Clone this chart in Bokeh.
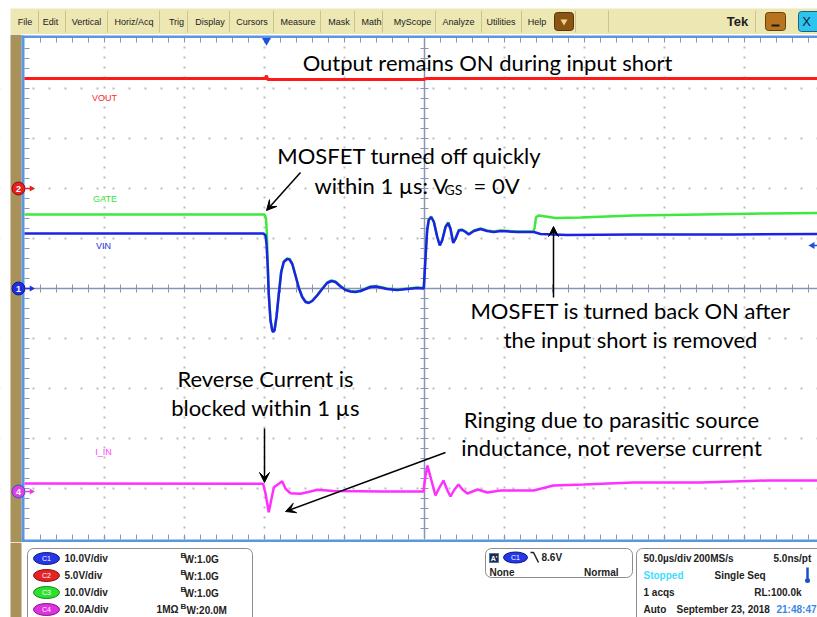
import numpy as np
from bokeh.plotting import figure
from bokeh.layouts import column
from bokeh.models import Range1d, Grid, FixedTicker, Arrow, VeeHead
from bokeh.core.properties import value
from bokeh.embed import file_html
from bokeh.resources import INLINE

# ---------------- waveform data ----------------
# time in µs relative to the trigger point (50 µs/div)
vin_t = [-151.25, -1.9, -0.6, 0.0, 0.8, 1.4, 2.5, 3.6, 4.2, 5.0, 6.25, 7.7, 9.2, 10.8, 12.9, 14.4,
         16.1, 18.1, 20.2, 22.3, 24.4, 26.4, 28.6, 31.7, 34.8, 37.9, 40.6, 43.1, 46.25, 49.4, 52.5,
         55.6, 58.75, 61.9, 65.0, 68.1, 71.25, 75.4, 81.7, 87.9, 94.2, 98.3, 99.4, 100.4, 101.4,
         102.9, 104.6, 106.7, 108.3, 109.8, 111.9, 113.6, 115.0, 116.7, 118.1, 120.2, 122.3, 124.4,
         126.4, 129.6, 133.75, 137.9, 142.1, 146.25, 156.7, 167.1, 171.25, 187.9, 229.4, 291.9, 344.4]
vin_v = [11.0, 11.0, 10.6, 8.9, 4.3, -1.1, -6.4, -8.4, -8.7, -8.4, -5.7, -1.1, 3.3, 5.3, 5.9, 5.8,
         4.9, 2.6, 0.1, -1.7, -2.7, -2.9, -2.5, -1.4, -0.1, 1.1, 1.5, 1.3, 0.4, -0.3, -0.6,
         -0.7, -0.5, -0.1, 0.3, 0.4, 0.2, -0.1, -0.3, -0.1, 0.1, 0.0, 6.3, 11.6, 13.7,
         14.3, 13.3, 10.3, 8.6, 9.6, 12.3, 13.1, 11.9, 9.1, 9.9, 11.6, 11.7, 11.3,
         10.8, 11.5, 11.9, 11.5, 11.3, 11.5, 11.3, 11.3, 10.9, 10.7, 10.8, 10.8, 10.9]

gate_t = [-151.25, -1.25, -0.3, 0.3, 0.8, 1.4, 2.5, 3.6, 4.2, 5.0, 6.25, 7.7, 9.2, 10.8, 12.9, 14.4,
          16.1, 18.1, 20.2, 22.3, 24.4, 26.4, 28.6, 31.7, 34.8, 37.9, 40.6, 43.1, 46.25, 49.4, 52.5,
          55.6, 58.75, 61.9, 65.0, 68.1, 71.25, 75.4, 81.7, 87.9, 94.2, 98.3, 99.4, 100.4, 101.4,
          102.9, 104.6, 106.7, 108.3, 109.8, 111.9, 113.6, 115.0, 116.7, 118.1, 120.2, 122.3, 124.4,
          126.4, 129.6, 133.75, 137.9, 142.1, 146.25, 156.7, 166.9, 167.6, 168.4, 170.0, 174.4,
          180.6, 196.25, 229.4, 271.25, 313.1, 344.4]
gate_v = [14.8, 14.8, 14.0, 10.6, 4.4, -1.0, -6.3, -8.3, -8.6, -8.3, -5.6, -1.0, 3.4, 5.4, 6.0, 5.9,
          5.0, 2.7, 0.2, -1.6, -2.6, -2.8, -2.4, -1.3, 0.0, 1.2, 1.6, 1.4, 0.5, -0.2, -0.5,
          -0.6, -0.4, 0.0, 0.4, 0.5, 0.3, 0.0, -0.2, 0.0, 0.2, 0.1, 6.4, 11.7, 13.8,
          14.4, 13.4, 10.4, 8.7, 9.7, 12.4, 13.2, 12.0, 9.2, 10.0, 11.7, 11.8, 11.4,
          10.9, 11.6, 12.0, 11.6, 11.4, 11.6, 11.4, 11.4, 12.2, 14.2, 14.6, 14.4,
          14.1, 14.2, 14.6, 14.8, 15.0, 15.1]

vout_t = [-151.25, -0.6, 0.0, 0.6, 3.0, 98.1, 100.0, 344.4]
vout_v = [11.0, 11.0, 11.3, 10.9, 10.9, 10.9, 11.0, 11.0]

iin_t = [-151.25, -2.1, -0.6, 1.4, 2.9, 4.6, 7.7, 9.8, 11.9, 15.0, 21.25, 27.5, 31.7, 41.9, 73.1,
         98.1, 99.4, 100.6, 103.1, 105.6, 108.1, 110.6, 113.1, 115.0, 117.5, 120.0, 122.5, 125.6,
         131.9, 138.1, 146.25, 166.9, 179.4, 198.1, 229.4, 271.25, 313.1, 344.4]
iin_a = [3.2, 3.1, -0.9, -8.3, -3.6, 1.7, 3.1, 4.1, 1.1, -0.7, -0.9, 0.0, 0.7, 0.2, 0.0,
         0.0, 6.4, 10.4, 4.4, -1.6, 1.6, 4.4, 0.4, -2.0, 0.8, 2.8, 0.8, -0.8,
         0.8, -0.4, 0.4, 0.4, 2.4, 2.8, 3.6, 3.6, 4.4, 4.4]

# scope settings
channel_names = ["C1", "C2", "C3", "C4"]
channel_units = ["V", "V", "V", "A"]
channel_scale = [10.0, 5.0, 10.0, 20.0]        # units per division
channel_ground_div = [0.0, 2.0, 0.0, -4.06]    # ground marker position in divisions
channel_bw = ["1.0G", "1.0G", "1.0G", "20.0M"]
time_per_div = 50.0
trigger_level = 8.6

# ---------------- screen geometry (reference pixels) ----------------
W = 817
X0, X1 = 0, 817
TOP_Y0, MID_Y0, MID_Y1, BOT_Y1 = 0, 34, 542, 617
TOP_H, MID_H, BOT_H = MID_Y0 - TOP_Y0, MID_Y1 - MID_Y0, BOT_Y1 - MID_Y1
GL, GT, GB = 24, 38, 538
CX, CY = 424, 288
DX, DY = 80, 50
TRIG_X = 266


def t_of(x):
    return (x - TRIG_X) / DX * time_per_div


def d_of(y):
    return (CY - y) / DY


BROWN = "#a8925a"
BLUE_EDGE = "#5b96e0"
RET = "#8a93b3"
FONT = value("Liberation Sans")
ANN_FONT = value("Lato")
ANN_SIZE = "22px"


def make_fig(h, xr, yr):
    f = figure(width=W, height=h, x_range=xr, y_range=yr, output_backend="svg",
               toolbar_location=None, x_axis_type=None, y_axis_type=None, min_border=0,
               outline_line_color=None, background_fill_color="white", border_fill_color="white")
    return f


# ============================ top: menu bar ============================
top = make_fig(TOP_H, Range1d(X0, X1), Range1d(MID_Y0, TOP_Y0))
top.quad(left=[10], right=[X1], top=[8], bottom=[34], fill_color="#ece7b3", line_color=None)
menu_items = ["File", "Edit", "Vertical", "Horiz/Acq", "Trig", "Display", "Cursors", "Measure",
              "Mask", "Math", "MyScope", "Analyze", "Utilities", "Help"]
menu_x = [24.5, 50, 86, 133.5, 176, 209.5, 251.5, 297.5, 338.5, 371, 412, 458, 500.5, 536.5]
seps = [38, 65, 107, 159, 187, 229, 273, 320, 354, 382, 435, 481, 521, 575, 608, 755]
top.segment(x0=seps, y0=[10] * len(seps), x1=seps, y1=[32] * len(seps), line_color="#cbc28c", line_width=1)
top.text(x=menu_x, y=[21] * len(menu_x), text=menu_items, text_font=FONT, text_font_size="9px",
         text_align="center", text_baseline="middle", text_color="#1a1a1a")
top.quad(left=[554], right=[573], top=[12], bottom=[30], fill_color="#8a5512", line_color="#5a3508",
         border_radius=3)
top.scatter(x=[563.5], y=[21], marker="inverted_triangle", size=7, fill_color="#f3d58a", line_color=None)
top.text(x=[737], y=[21], text=["Tek"], text_font=FONT, text_font_style="bold", text_font_size="13px",
         text_align="center", text_baseline="middle", text_color="#1e1e1e")
top.quad(left=[765], right=[785], top=[12], bottom=[30], fill_color="#b8731f", line_color="#6a400c",
         border_radius=3)
top.segment(x0=[771], y0=[25], x1=[779], y1=[25], line_color="#1a1a1a", line_width=2)
top.quad(left=[798], right=[826], top=[11], bottom=[31], fill_color="#2ec4f0", line_color="#1a6080",
         border_radius=3)
top.text(x=[806], y=[21], text=["X"], text_font=FONT, text_font_size="13px",
         text_align="center", text_baseline="middle", text_color="#0a2040")

# ============================ middle: graticule + traces ============================
mid = make_fig(MID_H, Range1d(t_of(X0), t_of(X1)), Range1d(d_of(MID_Y1), d_of(MID_Y0)))
mid.extra_x_ranges = {"px": Range1d(X0, X1)}
yr = {"px": Range1d(MID_Y1, MID_Y0)}
for name, s, g in zip(channel_names, channel_scale, channel_ground_div):
    yr[name] = Range1d((d_of(MID_Y1) - g) * s, (d_of(MID_Y0) - g) * s)
mid.extra_y_ranges = yr

vticks = [t_of(GL + k * DX) for k in range(1, 10) if k != 5]
hticks = [float(d) for d in range(-4, 5) if d != 0]
mid.add_layout(Grid(dimension=0, ticker=FixedTicker(ticks=vticks), grid_line_color="#bcbcbc",
                    grid_line_width=2, grid_line_dash="2 8", grid_line_dash_offset=6))
mid.add_layout(Grid(dimension=1, ticker=FixedTicker(ticks=hticks), grid_line_color="#bcbcbc",
                    grid_line_width=2, grid_line_dash="2 14"))

PX = dict(x_range_name="px", y_range_name="px")
# left strip and blue borders
mid.quad(left=[X0], right=[10], top=[MID_Y0], bottom=[MID_Y1], fill_color="white", line_color=None, **PX)
mid.quad(left=[10], right=[21], top=[MID_Y0], bottom=[MID_Y1], fill_color=BROWN, line_color=None, **PX)
mid.quad(left=[21, 21, 21], right=[24, X1, X1], top=[35, 35, 539], bottom=[542, 37.5, 542],
         fill_color=BLUE_EDGE, line_color=None, **PX)

# reticle center lines and edge ticks
tx = np.arange(GL + 16, X1 + 1, 16)
ty = np.arange(GT + 10, GB, 10)
mid.segment(x0=[GL, CX], y0=[CY, GT], x1=[X1, CX], y1=[CY, GB], line_color=RET, line_width=1.5, **PX)
mid.segment(x0=tx, y0=CY - 4, x1=tx, y1=CY + 4, line_color=RET, line_width=1, **PX)
mid.segment(x0=CX - 4, y0=ty, x1=CX + 4, y1=ty, line_color=RET, line_width=1, **PX)
mid.segment(x0=tx, y0=GT - 1, x1=tx, y1=GT + 4, line_color=RET, line_width=1, **PX)
mid.segment(x0=tx, y0=GB - 4, x1=tx, y1=GB + 1, line_color=RET, line_width=1, **PX)
mid.segment(x0=GL, y0=ty, x1=GL + 5, y1=ty, line_color=RET, line_width=1, **PX)

# traces
mid.line(vout_t, vout_v, y_range_name="C2", line_color="#ff1a1a", line_width=3)
mid.line(gate_t, gate_v, y_range_name="C3", line_color="#3ee83e", line_width=2.5)
mid.line(vin_t, vin_v, y_range_name="C1", line_color="#1c22e6", line_width=2.5)
mid.line(iin_t, iin_a, y_range_name="C4", line_color="#ff30ff", line_width=2.5)

# trace labels
mid.text(x=[104, 104.5, 103, 103], y=[97, 198, 245, 451], text=["VOUT", "GATE", "VIN", "I_IN"],
         text_color=["#ff2a2a", "#36e636", "#2a2ae0", "#ff40ff"], text_font=FONT, text_font_size="9px",
         text_align="center", text_baseline="middle", **PX)

# ground markers for C2, C1, C4
mk_ch = ["C2", "C1", "C4"]
mk_txt = ["2", "1", "4"]
mk_col = ["#e82020", "#1f2fe0", "#e040e0"]
mk_edge = ["#901010", "#101a90", "#3050e0"]
for ch, tx_, c, e in zip(mk_ch, mk_txt, mk_col, mk_edge):
    mid.segment(x0=[25], y0=[0], x1=[30], y1=[0], line_color=c, line_width=1.5,
                x_range_name="px", y_range_name=ch)
    mid.scatter(x=[31], y=[0], marker="triangle", angle=-np.pi / 2, size=6, fill_color=c,
                line_color=None, x_range_name="px", y_range_name=ch)
    mid.scatter(x=[18], y=[0], marker="circle", size=13, fill_color=c, line_color=e,
                line_width=1, x_range_name="px", y_range_name=ch)
    mid.text(x=[18], y=[0], text=[tx_], text_color="white", text_font=FONT, text_font_style="bold",
             text_font_size="9px", text_align="center", text_baseline="middle",
             x_range_name="px", y_range_name=ch)

# trigger position marker (top) and trigger level marker (right)
mid.scatter(x=[0.0], y=[40], marker="inverted_triangle", size=9, fill_color="#1f4fe0",
            line_color=None, y_range_name="px")
mid.segment(x0=[812], y0=[trigger_level], x1=[817], y1=[trigger_level], line_color="#1f4fe0",
            line_width=1.5, x_range_name="px", y_range_name="C1")
mid.scatter(x=[812], y=[trigger_level], marker="triangle", angle=np.pi / 2, size=7,
            fill_color="#1f4fe0", line_color=None, x_range_name="px", y_range_name="C1")

# annotations
ann_text = ["Output remains ON during input short", "MOSFET turned off quickly",
            "MOSFET is turned back ON after", "the input short is removed",
            "Reverse Current is", "blocked within 1 µs",
            "Ringing due to parasitic source", "inductance, not reverse current"]
ann_x = [487, 409, 630, 630, 265, 265, 611, 611]
ann_y = [62, 155, 310, 339, 378, 407, 419, 447]
mid.text(x=ann_x, y=ann_y, text=ann_text, text_font=ANN_FONT, text_font_size=ANN_SIZE,
         text_align="center", text_baseline="middle", text_color="black", **PX)
mid.text(x=[314], y=[185], text=["within 1 µs: V"], text_font=ANN_FONT, text_font_size=ANN_SIZE,
         text_align="left", text_baseline="middle", text_color="black", **PX)
mid.text(x=[444], y=[189], text=["GS"], text_font=ANN_FONT, text_font_size="14px",
         text_align="left", text_baseline="middle", text_color="black", **PX)
mid.text(x=[473], y=[185], text=["= 0V"], text_font=ANN_FONT, text_font_size=ANN_SIZE,
         text_align="left", text_baseline="middle", text_color="black", **PX)

arrows = [(300, 172, 266, 210), (553, 297, 553, 226), (264, 428, 264, 482), (445, 452, 285, 511)]
for xs, ys, xe, ye in arrows:
    mid.add_layout(Arrow(end=VeeHead(size=10, fill_color="black", line_color="black", line_width=1),
                         x_start=xs, y_start=ys, x_end=xe, y_end=ye, line_color="black",
                         line_width=1.5, **PX))

# ============================ bottom: status panel ============================
bot = make_fig(BOT_H, Range1d(X0, X1), Range1d(BOT_Y1, MID_Y1))
bot.quad(left=[10], right=[21], top=[MID_Y1], bottom=[BOT_Y1], fill_color=BROWN, line_color=None)
bot.quad(left=[27, 485, 636], right=[252, 632, 830], top=[548, 548, 548], bottom=[630, 577, 630],
         fill_color="white", line_color="#8c8c8c", line_width=1, border_radius=6)

rows = [558, 575, 592, 609]
badge_col = ["#2438e8", "#e42424", "#2ee02e", "#e030e0"]
badge_edge = ["#0a1680", "#801010", "#148014", "#801080"]
bot.ellipse(x=[46] * 4, y=rows, width=26, height=12, fill_color=badge_col, line_color=badge_edge)
bot.text(x=[46] * 4, y=rows, text=channel_names, text_color="white", text_font=FONT,
         text_font_size="7px", text_align="center", text_baseline="middle")
scale_txt = [f"{s:.1f}{u}/div" for s, u in zip(channel_scale, channel_units)]
BOLD = dict(text_font=FONT, text_font_style="bold", text_font_size="10px", text_baseline="middle",
            text_color="#222222")
bot.text(x=[64] * 4, y=rows, text=scale_txt, text_align="left", **BOLD)
bot.text(x=[180] * 4, y=[r - 3 for r in rows], text=["B"] * 4, text_font=FONT, text_font_style="bold",
         text_font_size="8px", text_baseline="middle", text_color="#222222", text_align="left")
bot.text(x=[184, 184, 184, 186], y=[r + 1 for r in rows], text=["W:" + b for b in channel_bw],
         text_align="left", **BOLD)
bot.text(x=[178], y=[609], text=["1MΩ"], text_align="right", **BOLD)

# trigger box
bot.quad(left=[489], right=[498], top=[553], bottom=[562], fill_color="#1c2c4c", line_color="#5070a0")
bot.text(x=[493.5], y=[557.5], text=["A'"], text_color="white", text_font=FONT, text_font_style="bold",
         text_font_size="7px", text_align="center", text_baseline="middle")
bot.ellipse(x=[515], y=[557], width=24, height=11, fill_color="#2438e8", line_color="#0a1680")
bot.text(x=[515], y=[557], text=["C1"], text_color="white", text_font=FONT, text_font_size="7px",
         text_align="center", text_baseline="middle")
bot.line(x=[530, 533, 538], y=[552, 552, 562], line_color="#222222", line_width=1.5)
bot.text(x=[541], y=[557], text=[f"{trigger_level}V"], text_align="left", **BOLD)
bot.text(x=[489], y=[572], text=["None"], text_align="left", **BOLD)
bot.text(x=[618], y=[572], text=["Normal"], text_align="right", **BOLD)

# timebase box
bot.text(x=[643, 693, 773], y=[558] * 3, text=[f"{time_per_div:.1f}µs/div", "200MS/s", "5.0ns/pt"],
         text_align="left", **BOLD)
bot.text(x=[643], y=[575], text=["Stopped"], text_align="left", text_font=FONT, text_font_style="bold",
         text_font_size="10px", text_baseline="middle", text_color="#3fdcff")
bot.text(x=[714], y=[575], text=["Single Seq"], text_align="left", **BOLD)
bot.segment(x0=[807], y0=[567], x1=[807], y1=[578], line_color="#1a4fc8", line_width=2.5)
bot.scatter(x=[807], y=[580], marker="circle", size=5, fill_color="#1a4fc8", line_color=None)
bot.text(x=[643], y=[592], text=["1 acqs"], text_align="left", **BOLD)
bot.text(x=[801], y=[592], text=["RL:100.0k"], text_align="right", **BOLD)
bot.text(x=[643, 676], y=[609, 609], text=["Auto", "September 23, 2018"], text_align="left", **BOLD)
bot.text(x=[776], y=[609], text=["21:48:47"], text_align="left", text_font=FONT, text_font_style="bold",
         text_font_size="10px", text_baseline="middle", text_color="#3a86e8")

layout = column(top, mid, bot, spacing=0)
open("out.html", "w").write(file_html(layout, INLINE))
